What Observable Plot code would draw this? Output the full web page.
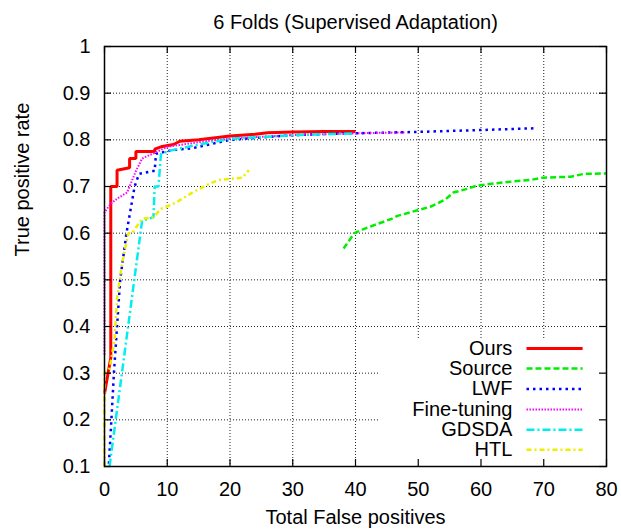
<!DOCTYPE html>
<html>
<head>
<meta charset="utf-8">
<script src="https://cdn.jsdelivr.net/npm/d3@7"></script>
<script src="https://cdn.jsdelivr.net/npm/@observablehq/plot@0.6"></script>
<style>
  html, body { margin: 0; padding: 0; background: #fff; }
  #chart svg { display: block; }
</style>
</head>
<body>
<div id="chart"></div>
<script>
// ---- Data ----
const seriesNames = ["Ours", "Source", "LWF", "Fine-tuning", "GDSDA", "HTL"];

const oursFP  = [0, 1, 1, 2, 2, 4, 4, 5, 5, 8, 8, 9, 11, 12, 15, 20, 24, 26, 30, 35, 40];
const oursTPR = [0.256, 0.333, 0.70, 0.70, 0.735, 0.74, 0.76, 0.76, 0.775, 0.775, 0.78, 0.785, 0.79, 0.797, 0.80, 0.808, 0.812, 0.815, 0.817, 0.818, 0.818];

const sourceFP  = [38.1, 39.8, 41.9, 45.8, 46.7, 49.6, 52, 54.3, 55.6, 57.8, 59.4, 63.6, 67.9, 69.8, 74.3, 76.4, 80];
const sourceTPR = [0.567, 0.6, 0.612, 0.631, 0.637, 0.648, 0.657, 0.672, 0.687, 0.695, 0.702, 0.709, 0.714, 0.719, 0.721, 0.727, 0.728];

const lwfFP  = [0.7, 1.1, 1.5, 2.0, 2.5, 3.5, 4.8, 5.5, 7.6, 8, 8.2, 10.8, 14, 20, 30, 36, 40, 50, 60, 69];
const lwfTPR = [0.106, 0.2, 0.3, 0.4, 0.5, 0.6, 0.7, 0.727, 0.733, 0.733, 0.77, 0.778, 0.782, 0.80, 0.81, 0.813, 0.814, 0.817, 0.821, 0.825];

const ftFP  = [0, 0, 1, 2, 3.6, 5, 6, 6.8, 8, 10, 15, 20, 30, 40, 48];
const ftTPR = [0.34, 0.645, 0.663, 0.674, 0.687, 0.733, 0.76, 0.765, 0.772, 0.785, 0.795, 0.803, 0.81, 0.814, 0.816];

const gdsdaFP  = [0.8, 6, 7.8, 8, 8.6, 9, 10.8, 15, 20, 30, 40];
const gdsdaTPR = [0.1, 0.627, 0.634, 0.70, 0.70, 0.77, 0.778, 0.79, 0.802, 0.81, 0.814];

const htlFP  = [0, 0, 0.8, 1.6, 2, 2.8, 3.8, 4.4, 6, 7.8, 9, 11.3, 14, 16.6, 18.2, 22, 23];
const htlTPR = [0.1, 0.3, 0.31, 0.37, 0.46, 0.535, 0.6, 0.6, 0.631, 0.634, 0.652, 0.665, 0.687, 0.705, 0.714, 0.719, 0.735];

const xTicks = [0, 10, 20, 30, 40, 50, 60, 70, 80];
const yTicks = [0.1, 0.2, 0.3, 0.4, 0.5, 0.6, 0.7, 0.8, 0.9, 1];
const yTickLabels = ["0.1", "0.2", "0.3", "0.4", "0.5", "0.6", "0.7", "0.8", "0.9", "1"];

const titleText = "6 Folds (Supervised Adaptation)";
const xLabel = "Total False positives";
const yLabel = "True positive rate";

// legend placement (data coordinates)
const legendLabelX = 65;
const legendSampleX = [67.25, 76.2];
const legendRowY = [0.353, 0.31, 0.266, 0.222, 0.179, 0.136];
const legendBox = {x1: 43.8, x2: 80, y1: 0.1, y2: 0.374};

// ---- Styles ----
const styles = [
  {stroke: "#ff0000", strokeWidth: 3, dash: null},
  {stroke: "#00ee00", strokeWidth: 2.5, dash: "6,3"},
  {stroke: "#0000ff", strokeWidth: 2.5, dash: "2.5,4"},
  {stroke: "#ff00ff", strokeWidth: 2, dash: "1.5,1.5"},
  {stroke: "#00eeee", strokeWidth: 2.5, dash: "8,3,2,3"},
  {stroke: "#eeee00", strokeWidth: 2.5, dash: "5,3,2,3"}
];

const seriesData = [
  [oursFP, oursTPR], [sourceFP, sourceTPR], [lwfFP, lwfTPR],
  [ftFP, ftTPR], [gdsdaFP, gdsdaTPR], [htlFP, htlTPR]
].map(([xs, ys]) => xs.map((x, i) => ({x, y: ys[i]})));

const W = 621, H = 529;
const mTop = 46, mBottom = 63, mLeft = 104, mRight = 15;
const innerW = W - mLeft - mRight, innerH = H - mTop - mBottom;
const tickLen = 7;
const font = "'Liberation Sans', Arial, Helvetica, sans-serif";
const fs = 20;

const gridX = xTicks.slice(1, -1);
const gridY = yTicks.slice(1, -1);

const marks = [
  // grid
  Plot.ruleX(gridX, {x: d => d, stroke: "#222", strokeWidth: 1, strokeDasharray: "1,2"}),
  Plot.ruleY(gridY, {y: d => d, stroke: "#222", strokeWidth: 1, strokeDasharray: "1,2"}),
  // opaque legend box hides the grid behind it
  Plot.rect([legendBox], {x1: "x1", x2: "x2", y1: "y1", y2: "y2", fill: "white"}),
];

seriesData.forEach((data, i) => {
  const s = styles[i];
  marks.push(Plot.line(data, {x: "x", y: "y", stroke: s.stroke, strokeWidth: s.strokeWidth,
    strokeDasharray: s.dash ?? undefined, strokeLinejoin: "miter", strokeLinecap: "butt"}));
});

// legend
seriesNames.forEach((name, i) => {
  const s = styles[i];
  marks.push(Plot.text([name], {x: legendLabelX, y: legendRowY[i], text: d => d, textAnchor: "end",
    fontSize: fs, fill: "#000"}));
  marks.push(Plot.line(legendSampleX.map(x => ({x, y: legendRowY[i]})), {x: "x", y: "y",
    stroke: s.stroke, strokeWidth: s.strokeWidth, strokeDasharray: s.dash ?? undefined, strokeLinecap: "butt"}));
});

marks.push(
  // inward tick marks on all four sides
  Plot.tickX(xTicks, {x: d => d, stroke: "#000", strokeWidth: 1.2, insetTop: innerH - tickLen}),
  Plot.tickX(xTicks, {x: d => d, stroke: "#000", strokeWidth: 1.2, insetBottom: innerH - tickLen}),
  Plot.tickY(yTicks, {y: d => d, stroke: "#000", strokeWidth: 1.2, insetRight: innerW - tickLen}),
  Plot.tickY(yTicks, {y: d => d, stroke: "#000", strokeWidth: 1.2, insetLeft: innerW - tickLen}),
  Plot.frame({stroke: "#000", strokeWidth: 1.5}),
  Plot.axisX(xTicks, {tickSize: 0, tickPadding: 15, fontSize: fs, label: null}),
  Plot.axisY(yTicks, {tickSize: 0, tickPadding: 14, fontSize: fs, label: null,
    tickFormat: d => yTickLabels[yTicks.indexOf(d)]}),
  Plot.text([titleText], {frameAnchor: "top", dy: -32, fontSize: fs, text: d => d}),
  Plot.text([xLabel], {frameAnchor: "bottom", dy: 57, fontSize: fs, text: d => d}),
  Plot.text([yLabel], {frameAnchor: "left", dx: -82, rotate: -90, fontSize: fs, text: d => d})
);

const chart = Plot.plot({
  width: W, height: H,
  marginTop: mTop, marginBottom: mBottom, marginLeft: mLeft, marginRight: mRight,
  style: {fontFamily: font, fontSize: fs + "px", background: "white", color: "black"},
  x: {domain: [0, 80], ticks: xTicks},
  y: {domain: [0.1, 1], ticks: yTicks},
  marks
});
document.getElementById("chart").appendChild(chart);
</script>
</body>
</html>
